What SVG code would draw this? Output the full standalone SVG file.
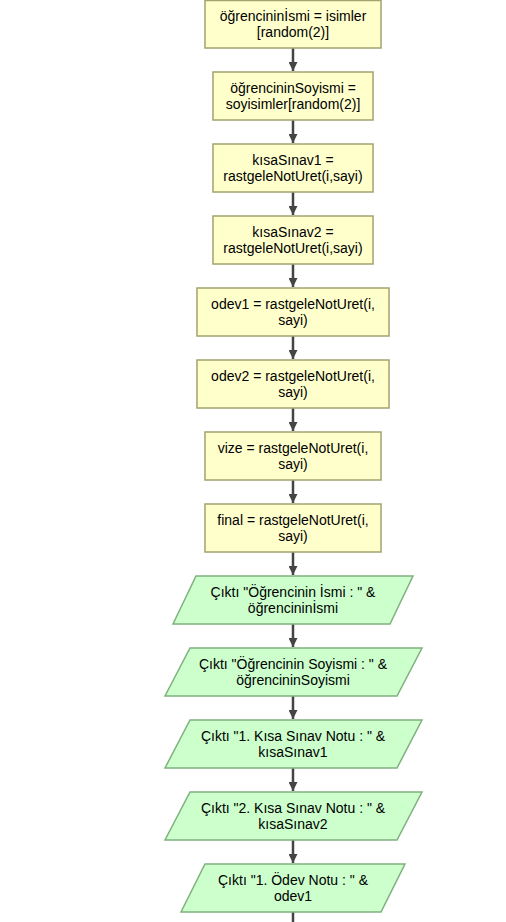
<svg xmlns="http://www.w3.org/2000/svg" width="506" height="922" viewBox="0 0 506 922">
<style>
.proc{fill:#ffffcc;stroke:#a3a36f;stroke-width:1.5}
.io{fill:#ccffcc;stroke:#7fb07f;stroke-width:1.5}
.t{font-family:"Liberation Sans",Arial,sans-serif;font-size:14px;fill:#000;text-anchor:middle;dominant-baseline:central}
.c{stroke:#444;stroke-width:2.5;fill:none}
</style>
<defs>
<marker id="ah" viewBox="0 0 10 10" refX="10" refY="5" markerWidth="3.6" markerHeight="3.6" orient="auto" markerUnits="strokeWidth">
<path d="M0,0 L10,5 L0,10 Z" fill="#444"/>
</marker>
</defs>
<rect width="506" height="922" fill="#fff"/>
<g id="connectors">
<line class="c" x1="293" y1="48" x2="293" y2="71" marker-end="url(#ah)"/>
<line class="c" x1="293" y1="120" x2="293" y2="143" marker-end="url(#ah)"/>
<line class="c" x1="293" y1="192" x2="293" y2="215" marker-end="url(#ah)"/>
<line class="c" x1="293" y1="264" x2="293" y2="287" marker-end="url(#ah)"/>
<line class="c" x1="293" y1="336" x2="293" y2="359" marker-end="url(#ah)"/>
<line class="c" x1="293" y1="408" x2="293" y2="431" marker-end="url(#ah)"/>
<line class="c" x1="293" y1="480" x2="293" y2="503" marker-end="url(#ah)"/>
<line class="c" x1="293" y1="552" x2="293" y2="575" marker-end="url(#ah)"/>
<line class="c" x1="293" y1="624" x2="293" y2="647" marker-end="url(#ah)"/>
<line class="c" x1="293" y1="696" x2="293" y2="719" marker-end="url(#ah)"/>
<line class="c" x1="293" y1="768" x2="293" y2="791" marker-end="url(#ah)"/>
<line class="c" x1="293" y1="840" x2="293" y2="863" marker-end="url(#ah)"/>
<line class="c" x1="293" y1="912" x2="293" y2="922"/>
</g>
<g id="n1"><rect class="proc" x="205" y="0.5" width="176" height="47.5"/><text class="t" x="293" y="16">öğrencininİsmi = isimler</text><text class="t" x="293" y="32">[random(2)]</text></g>
<g id="n2"><rect class="proc" x="213" y="72" width="160" height="48"/><text class="t" x="293" y="88">öğrencininSoyismi =</text><text class="t" x="293" y="104">soyisimler[random(2)]</text></g>
<g id="n3"><rect class="proc" x="213" y="144" width="160" height="48"/><text class="t" x="293" y="160">kısaSınav1 =</text><text class="t" x="293" y="176">rastgeleNotUret(i,sayi)</text></g>
<g id="n4"><rect class="proc" x="213" y="216" width="160" height="48"/><text class="t" x="293" y="232">kısaSınav2 =</text><text class="t" x="293" y="248">rastgeleNotUret(i,sayi)</text></g>
<g id="n5"><rect class="proc" x="197" y="288" width="192" height="48"/><text class="t" x="293" y="304">odev1 = rastgeleNotUret(i,</text><text class="t" x="293" y="320">sayi)</text></g>
<g id="n6"><rect class="proc" x="197" y="360" width="192" height="48"/><text class="t" x="293" y="376">odev2 = rastgeleNotUret(i,</text><text class="t" x="293" y="392">sayi)</text></g>
<g id="n7"><rect class="proc" x="205" y="432" width="176" height="48"/><text class="t" x="293" y="448">vize = rastgeleNotUret(i,</text><text class="t" x="293" y="464">sayi)</text></g>
<g id="n8"><rect class="proc" x="205" y="504" width="176" height="48"/><text class="t" x="293" y="520">final = rastgeleNotUret(i,</text><text class="t" x="293" y="536">sayi)</text></g>
<g id="n9"><polygon class="io" points="196,576 413,576 390,624 173,624"/><text class="t" x="293" y="592">Çıktı "Öğrencinin İsmi : " &amp;</text><text class="t" x="293" y="608">öğrencininİsmi</text></g>
<g id="n10"><polygon class="io" points="190,648 422,648 397,696 165,696"/><text class="t" x="293" y="664">Çıktı "Öğrencinin Soyismi : " &amp;</text><text class="t" x="293" y="680">öğrencininSoyismi</text></g>
<g id="n11"><polygon class="io" points="190,720 422,720 397,768 165,768"/><text class="t" x="293" y="736">Çıktı "1. Kısa Sınav Notu : " &amp;</text><text class="t" x="293" y="752">kısaSınav1</text></g>
<g id="n12"><polygon class="io" points="190,792 422,792 397,840 165,840"/><text class="t" x="293" y="808">Çıktı "2. Kısa Sınav Notu : " &amp;</text><text class="t" x="293" y="824">kısaSınav2</text></g>
<g id="n13"><polygon class="io" points="205,864 405,864 381,912 181,912"/><text class="t" x="293" y="880">Çıktı "1. Ödev Notu : " &amp;</text><text class="t" x="293" y="896">odev1</text></g>
</svg>
